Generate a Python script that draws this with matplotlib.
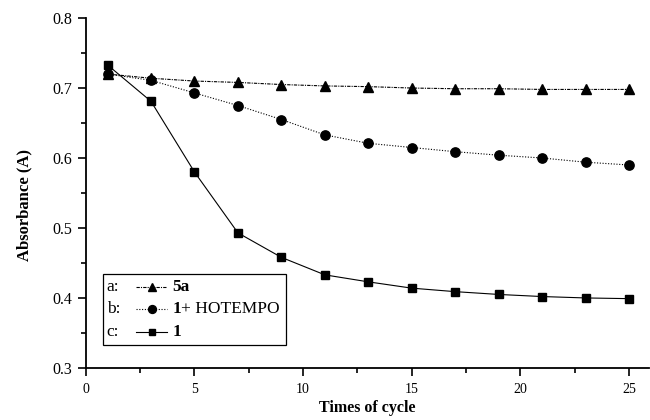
import matplotlib
matplotlib.use("Agg")
import matplotlib.pyplot as plt
from matplotlib.lines import Line2D
from matplotlib.patches import Rectangle

plt.rcParams['font.family'] = ['Liberation Serif', 'DejaVu Serif']

cycles = [1, 3, 5, 7, 9, 11, 13, 15, 17, 19, 21, 23, 25]
abs_5a = [0.720, 0.714, 0.710, 0.708, 0.705, 0.703, 0.702, 0.700, 0.699, 0.699, 0.698, 0.698, 0.698]
abs_hotempo = [0.720, 0.711, 0.693, 0.675, 0.655, 0.633, 0.621, 0.615, 0.609, 0.604, 0.600, 0.594, 0.590]
abs_1 = [0.733, 0.681, 0.580, 0.493, 0.458, 0.433, 0.423, 0.414, 0.409, 0.405, 0.402, 0.400, 0.399]

styles = [
    ("a:", "5a", None, abs_5a, '^', 7, (0, (3, 1, 1, 1))),
    ("b:", "1", "+ HOTEMPO", abs_hotempo, 'o', 6.7, (0, (1, 1.5))),
    ("c:", "1", None, abs_1, 's', 5.8, '-'),
]

fig = plt.figure(figsize=(6.5, 4.2), dpi=100)
ax = fig.add_axes([0.132, 0.124, 0.866, 0.833])

for tag, bold, rest, vals, mk, ms, ls in styles:
    ax.plot(cycles, vals, color='black', marker=mk, markersize=ms, linestyle=ls, linewidth=0.8)

ax.set_xlim(0, 25.9)
ax.set_ylim(0.3, 0.8)
ax.set_xticks([0, 5, 10, 15, 20, 25])
ax.set_xticks([2.5, 7.5, 12.5, 17.5, 22.5], minor=True)
ax.set_yticks([0.3, 0.4, 0.5, 0.6, 0.7, 0.8])
ax.set_yticks([0.35, 0.45, 0.55, 0.65, 0.75], minor=True)
ax.set_yticklabels(['0.3', '0.4', '0.5', '0.6', '0.7', '0.8'])
ax.tick_params(which='major', direction='out', length=6, width=1.2)
ax.tick_params(which='minor', direction='out', length=3.5, width=1.2)
ax.tick_params(axis='x', labelsize=10, pad=5)
ax.tick_params(axis='y', labelsize=11.5, pad=4)
for s in ['top', 'right']:
    ax.spines[s].set_visible(False)
for s in ['left', 'bottom']:
    ax.spines[s].set_linewidth(1.3)

ax.set_xlabel('Times of cycle', fontsize=11.5, fontweight='bold', labelpad=3)
ax.set_ylabel('Absorbance (A)', fontsize=12, fontweight='bold', labelpad=14, y=0.466)

# legend box drawn by hand (tag before the handle)
ax.add_patch(Rectangle((0.030, 0.066), 0.326, 0.203, transform=ax.transAxes,
                       facecolor='white', edgecolor='black', linewidth=0.9))
rows = [0.231, 0.169, 0.103]
for (tag, bold, rest, vals, mk, ms, ls), y in zip(styles, rows):
    ax.text(0.037, y, tag, transform=ax.transAxes, fontsize=12.5, va='center')
    ax.add_line(Line2D([0.090, 0.145], [y, y], transform=ax.transAxes, color='black',
                       linestyle=ls, linewidth=0.8))
    ax.add_line(Line2D([0.117], [y], transform=ax.transAxes, color='black',
                       marker=mk, markersize=ms * 0.85, linestyle='none'))
    t = ax.text(0.154, y, bold, transform=ax.transAxes, fontsize=12.5, fontweight='bold', va='center')
    if rest:
        ax.annotate(rest, xy=(1, 0), xycoords=t, fontsize=12.5, va='bottom')

fig.savefig('out.png', dpi=100)
